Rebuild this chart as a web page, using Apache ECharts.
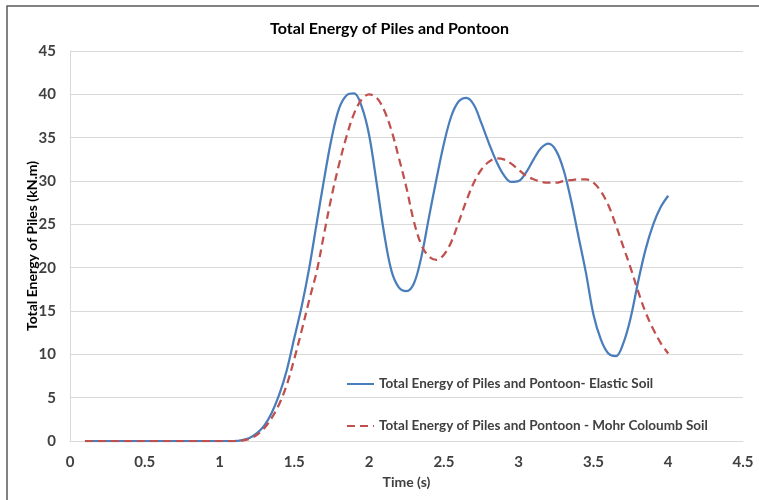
<!DOCTYPE html>
<html>
<head>
<meta charset="utf-8">
<script src="https://cdn.jsdelivr.net/npm/echarts@6/dist/echarts.min.js"></script>
<style>
  html, body { margin: 0; padding: 0; background: #fff; }
  .chart { width: 759px; height: 500px; }
</style>
</head>
<body>
<div class="chart"></div>
<script>
// data
var xTicks = [0, 0.5, 1, 1.5, 2, 2.5, 3, 3.5, 4, 4.5]
var yTicks = [0, 5, 10, 15, 20, 25, 30, 35, 40, 45]

var timeSteps = [0.1, 0.2, 0.3, 0.4, 0.5, 0.6, 0.7, 0.8, 0.9, 1.0, 1.1,
  1.15, 1.2, 1.25, 1.3, 1.35, 1.4, 1.45, 1.5, 1.55, 1.6, 1.65, 1.7, 1.75, 1.8, 1.85, 1.9, 1.95,
  2.0, 2.05, 2.1, 2.15, 2.2, 2.25, 2.3, 2.35, 2.4, 2.45, 2.5, 2.55, 2.6, 2.65, 2.7, 2.75,
  2.8, 2.85, 2.9, 2.95, 3.0, 3.05, 3.1, 3.15, 3.2, 3.25, 3.3, 3.35, 3.4, 3.45, 3.5, 3.55,
  3.6, 3.65, 3.7, 3.75, 3.8, 3.85, 3.9, 3.95, 4.0]
var elasticEnergy = [0, 0, 0, 0, 0, 0, 0, 0, 0, 0, 0,
  0.1, 0.35, 0.9, 1.8, 3.3, 5.4, 8.2, 11.9, 15.6, 20, 25.2, 30.3, 35, 38.4, 39.9, 40.1, 38.6,
  35.3, 29.8, 24, 19.6, 17.7, 17.3, 18.2, 21.3, 25.8, 30.2, 34.3, 37.5, 39.2, 39.6, 38.8, 36.7,
  34.4, 32.3, 30.7, 29.9, 30, 31, 32.5, 33.8, 34.3, 33.5, 31.3, 27.8, 23.6, 19.4, 14.6, 11.7,
  10.1, 9.8, 11.3, 14.3, 18.5, 22.2, 25, 27, 28.3]
var mohrEnergy = [0, 0, 0, 0, 0, 0, 0, 0, 0, 0, 0,
  0.05, 0.25, 0.7, 1.5, 2.7, 4.3, 6.5, 9.5, 12.8, 16.3, 19.6, 24, 28.3, 32, 35.2, 37.8, 39.4,
  40, 39.6, 38.2, 35.8, 32.6, 29.2, 25.3, 22.6, 21.3, 20.9, 21.5, 23, 25.3, 27.7, 29.8, 31.3,
  32.2, 32.6, 32.5, 32, 31.3, 30.6, 30.2, 29.9, 29.8, 29.8, 30, 30.1, 30.2, 30.2, 29.8, 28.8,
  27.2, 24.9, 22.4, 19.9, 17.2, 14.8, 12.9, 11.3, 10.1]

function pairs(xs, ys) {
  return xs.map(function (x, i) { return [x, ys[i]] })
}

(function(){
  var font = "Lato, 'Liberation Sans', sans-serif"
  var txt = '#404040'
  var myChart = echarts.init(document.querySelector('.chart'))
  var option = {
    animation: false,
    textStyle: { fontFamily: font },
    title: {
      text: 'Total Energy of Piles and Pontoon',
      left: 265,
      top: 16,
      textStyle: { fontFamily: font, fontSize: 16, fontWeight: 'bold', color: '#000' }
    },
    graphic: [{
      type: 'rect',
      shape: { x: 7, y: 6, width: 800, height: 600 },
      style: { fill: 'none', stroke: '#5a5a5a', lineWidth: 1.5 },
      silent: true
    }],
    legend: {
      orient: 'vertical',
      left: 341,
      top: 372,
      itemWidth: 27,
      itemHeight: 14,
      itemGap: 28,
      itemStyle: { opacity: 0 },
      textStyle: { fontFamily: font, fontSize: 13.5, fontWeight: 'bold', color: txt }
    },
    grid: {
      left: 70,
      right: 16,
      top: 51,
      bottom: 59,
      containLabel: false
    },
    xAxis: {
      type: 'value',
      min: xTicks[0],
      max: xTicks[xTicks.length - 1],
      interval: 0.5,
      name: 'Time (s)',
      nameLocation: 'middle',
      nameGap: 34,
      nameTextStyle: { fontFamily: font, fontSize: 14, fontWeight: 'bold', color: txt },
      axisLine: { lineStyle: { color: '#d9d9d9' } },
      axisTick: { show: false },
      axisLabel: { margin: 14, fontSize: 15, fontWeight: 'bold', color: txt },
      splitLine: { show: false }
    },
    yAxis: {
      type: 'value',
      min: yTicks[0],
      max: yTicks[yTicks.length - 1],
      interval: 5,
      name: 'Total Energy of Piles (kN.m)',
      nameLocation: 'middle',
      nameGap: 31,
      nameMoveOverlap: false,
      nameTextStyle: { fontFamily: font, fontSize: 14, fontWeight: 'bold', color: '#000' },
      axisLine: { show: true, lineStyle: { color: '#d9d9d9' } },
      axisTick: { show: false },
      axisLabel: { margin: 14, fontSize: 15, fontWeight: 'bold', color: txt },
      splitLine: { lineStyle: { color: '#d9d9d9', width: 1 } }
    },
    series: [{
      name: 'Total Energy of Piles and Pontoon- Elastic Soil',
      type: 'line',
      data: pairs(timeSteps, elasticEnergy),
      smooth: 0.35,
      symbol: 'none',
      color: '#4a7ebb',
      lineStyle: { width: 2.25, color: '#4a7ebb' }
    }, {
      name: 'Total Energy of Piles and Pontoon - Mohr Coloumb Soil',
      type: 'line',
      data: pairs(timeSteps, mohrEnergy),
      smooth: 0.35,
      symbol: 'none',
      color: '#c0504d',
      lineStyle: { width: 2.25, color: '#c0504d', type: [8, 5] }
    }]
  }
  myChart.setOption(option)
})();
</script>
</body>
</html>
